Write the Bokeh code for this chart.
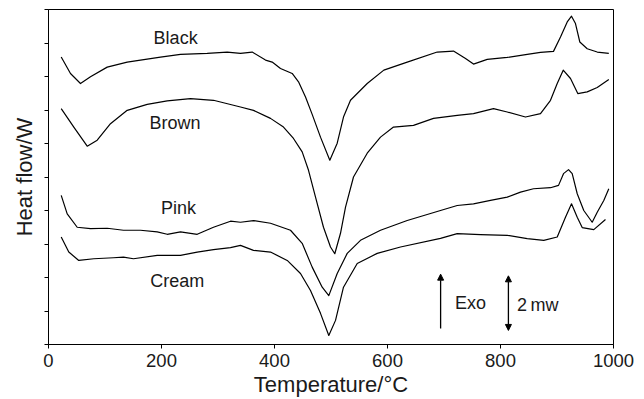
from bokeh.plotting import figure
from bokeh.models import Range1d, FixedTicker, Label, Arrow, NormalHead, CustomJSTickFormatter
from bokeh.embed import file_html
from bokeh.resources import INLINE

# --- data (temperature in °C, heat flow in arbitrary offset units) ---
black_t = [22.5, 38.9, 56.6, 74.3, 103.9, 139.3, 162.8, 198.2, 233.6, 280.9, 316.3, 339.8, 360.5,
           384.1, 395.9, 410.6, 431.3, 442.5, 454.9, 466.7, 481.4, 497.9, 511.0, 522.1, 534.5,
           564.1, 593.5, 634.9, 688.0, 716.8, 738.1, 752.2, 776.5, 811.9, 847.3, 870.8, 893.8,
           906.2, 918.1, 925.7, 932.7, 940.4, 953.5, 971.2, 991.7]
black_h = [8.58, 8.09, 7.79, 7.99, 8.28, 8.43, 8.49, 8.58, 8.66, 8.69, 8.73, 8.69, 8.73,
           8.49, 8.43, 8.24, 8.09, 7.84, 7.39, 6.87, 6.19, 5.50, 6.01, 6.79, 7.29,
           7.79, 8.19, 8.43, 8.73, 8.76, 8.54, 8.37, 8.51, 8.57, 8.66, 8.72, 8.75,
           9.18, 9.63, 9.80, 9.58, 9.03, 8.83, 8.73, 8.69]

brown_t = [22.5, 44.8, 68.5, 86.2, 109.7, 139.3, 174.7, 210.1, 251.3, 292.0, 339.8, 362.8,
           392.9, 415.9, 433.6, 449.0, 460.2, 472.6, 486.7, 499.1, 506.7, 516.8, 525.7, 539.8,
           564.1, 587.6, 610.6, 646.0, 681.4, 723.4, 752.2, 787.6, 811.9, 844.2, 870.8, 888.5,
           900.4, 911.0, 923.9, 936.8, 953.5, 971.2, 991.7]
brown_h = [7.04, 6.49, 5.92, 6.10, 6.59, 6.99, 7.17, 7.27, 7.34, 7.29, 7.09, 6.99,
           6.75, 6.49, 6.15, 5.75, 5.20, 4.40, 3.50, 2.91, 2.71, 3.32, 4.10, 5.00,
           5.71, 6.19, 6.49, 6.54, 6.75, 6.84, 6.89, 7.04, 6.94, 6.79, 6.89, 7.29,
           7.79, 8.19, 7.94, 7.49, 7.54, 7.67, 7.91]

pink_t = [22.5, 33.1, 50.8, 74.3, 103.9, 132.7, 162.8, 192.4, 210.1, 233.6, 263.2, 292.0,
          322.1, 339.8, 362.8, 392.9, 428.3, 449.0, 466.7, 484.4, 496.1, 511.0, 528.7, 552.2,
          587.6, 634.9, 693.8, 723.4, 752.2, 782.3, 811.9, 835.4, 858.4, 888.5, 902.7, 911.5,
          920.4, 926.9, 935.8, 947.4, 962.3, 971.2, 982.8, 991.7]
pink_h = [4.45, 3.90, 3.50, 3.46, 3.47, 3.41, 3.41, 3.36, 3.29, 3.36, 3.29, 3.50,
          3.68, 3.65, 3.70, 3.62, 3.41, 3.02, 2.31, 1.71, 1.46, 2.12, 2.72, 3.11,
          3.41, 3.70, 4.00, 4.15, 4.20, 4.30, 4.40, 4.55, 4.65, 4.68, 4.75, 5.10,
          5.22, 5.10, 4.50, 4.00, 3.65, 3.95, 4.30, 4.65]

cream_t = [22.5, 35.9, 53.6, 80.2, 115.0, 132.7, 150.4, 192.4, 233.6, 263.2, 292.0, 322.1,
           339.8, 362.8, 392.9, 422.5, 446.0, 463.7, 481.4, 496.1, 508.0, 522.1, 546.4, 581.8,
           623.0, 693.8, 723.4, 764.6, 811.9, 847.3, 876.6, 900.4, 915.0, 925.7, 935.8, 944.6,
           965.1, 985.8]
cream_h = [3.21, 2.76, 2.51, 2.56, 2.59, 2.61, 2.56, 2.66, 2.66, 2.76, 2.83, 2.89,
           2.96, 2.81, 2.76, 2.51, 2.12, 1.61, 0.93, 0.27, 0.72, 1.71, 2.42, 2.72,
           2.91, 3.17, 3.31, 3.28, 3.26, 3.16, 3.11, 3.21, 3.80, 4.20, 3.80, 3.49,
           3.43, 3.73]

x_ticks = [0, 200, 400, 600, 800, 1000]
y_ticks = list(range(0, 11))

FONT = "Liberation Sans"
TXT = "#1a1a1a"

p = figure(width=644, height=399, output_backend="svg", toolbar_location=None,
           x_range=Range1d(0, 1000), y_range=Range1d(0, 10),
           min_border_left=48, min_border_right=31, min_border_top=9, min_border_bottom=55)
p.background_fill_color = "white"
p.border_fill_color = "white"
p.outline_line_color = "black"
p.outline_line_width = 1
p.xgrid.visible = False
p.ygrid.visible = False

for xs, ys in [(black_t, black_h), (brown_t, brown_h), (pink_t, pink_h), (cream_t, cream_h)]:
    p.line(xs, ys, line_color="black", line_width=1.2, line_join="round")

# axes
p.xaxis.ticker = FixedTicker(ticks=x_ticks)
p.xaxis.minor_tick_line_color = None
p.xaxis.major_tick_out = 4
p.xaxis.major_tick_in = 0
p.xaxis.major_label_text_font = FONT
p.xaxis.major_label_text_font_size = "18.5px"
p.xaxis.major_label_text_color = TXT
p.xaxis.major_label_standoff = 5
p.xaxis.axis_label = "Temperature/°C"
p.xaxis.axis_label_text_font = FONT
p.xaxis.axis_label_text_font_size = "22px"
p.xaxis.axis_label_text_font_style = "normal"
p.xaxis.axis_label_text_color = TXT
p.xaxis.axis_label_standoff = 2

p.yaxis.ticker = FixedTicker(ticks=y_ticks)
p.yaxis.formatter = CustomJSTickFormatter(code="return ''")
p.yaxis.minor_tick_line_color = None
p.yaxis.major_tick_out = 4
p.yaxis.major_tick_in = 0
p.yaxis.major_label_standoff = 0
p.yaxis.axis_label = "Heat flow/W"
p.yaxis.axis_label_text_font = FONT
p.yaxis.axis_label_text_font_size = "22px"
p.yaxis.axis_label_text_font_style = "normal"
p.yaxis.axis_label_text_color = TXT
p.yaxis.axis_label_standoff = 8

# curve names
for name, x, y in [("Black", 225, 9.14), ("Brown", 224, 6.60), ("Pink", 230, 4.06), ("Cream", 228, 1.91)]:
    p.add_layout(Label(x=x, y=y, text=name, text_font=FONT, text_font_size="18px",
                       text_color=TXT, text_align="center", text_baseline="middle"))

# Exo and scale arrows
p.add_layout(Arrow(x_start=694, y_start=0.48, x_end=694, y_end=2.1, line_width=1.3,
                   end=NormalHead(size=6, fill_color="black", line_color="black")))
p.add_layout(Arrow(x_start=814, y_start=0.42, x_end=814, y_end=2.05, line_width=1.3,
                   start=NormalHead(size=6, fill_color="black", line_color="black"),
                   end=NormalHead(size=6, fill_color="black", line_color="black")))
p.add_layout(Label(x=747, y=1.25, text="Exo", text_font=FONT, text_font_size="18px",
                   text_color=TXT, text_align="center", text_baseline="middle"))
p.add_layout(Label(x=866, y=1.17, text="2\u2009mw", text_font=FONT, text_font_size="18px",
                   text_color=TXT, text_align="center", text_baseline="middle"))

open("out.html", "w").write(file_html(p, INLINE))
